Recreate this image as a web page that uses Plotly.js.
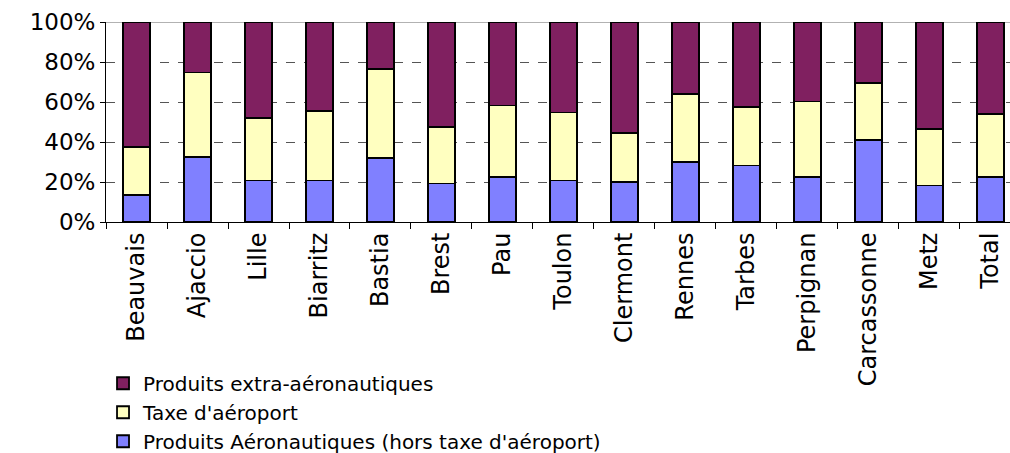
<!DOCTYPE html>
<html>
<head>
<meta charset="utf-8">
<script src="https://cdn.plot.ly/plotly-3.0.1.min.js"></script>
<style>html,body{margin:0;padding:0;background:#fff;}#chart{width:1010px;height:453px;}</style>
</head>
<body>
<div id="chart"></div>
<script>
const categories = ["Beauvais","Ajaccio","Lille","Biarritz","Bastia","Brest","Pau","Toulon","Clermont","Rennes","Tarbes","Perpignan","Carcassonne","Metz","Total"];
const aeronautiques = [13.5, 32.7, 20.8, 20.8, 32.2, 19.3, 22.7, 20.8, 20.0, 30.0, 28.3, 22.7, 41.2, 18.3, 22.7];
const taxeAeroport = [24.2, 42.1, 31.4, 34.9, 44.5, 28.4, 35.6, 34.0, 24.7, 34.0, 29.2, 37.6, 28.5, 28.4, 31.3];
const extraAeronautiques = [62.3, 25.2, 47.8, 44.3, 23.3, 52.3, 41.7, 45.2, 55.3, 36.0, 42.5, 39.7, 30.3, 53.3, 46.0];
const yTicks = [0, 20, 40, 60, 80, 100];

const lineStyle = {color: '#000000', width: 1.8};
const traces = [
  {type: 'bar', name: "Produits Aéronautiques (hors taxe d'aéroport)", x: categories, y: aeronautiques,
   marker: {color: '#8080FF', line: lineStyle}, width: 0.43},
  {type: 'bar', name: "Taxe d'aéroport", x: categories, y: taxeAeroport,
   marker: {color: '#FFFFC0', line: lineStyle}, width: 0.43},
  {type: 'bar', name: 'Produits extra-aéronautiques', x: categories, y: extraAeronautiques,
   marker: {color: '#802060', line: lineStyle}, width: 0.43}
];

const layout = {
  width: 1010, height: 453,
  margin: {l: 106, r: 0, t: 22, b: 231, autoexpand: false},
  paper_bgcolor: '#ffffff', plot_bgcolor: '#ffffff',
  barmode: 'stack',
  showlegend: true,
  font: {family: 'DejaVu Sans, Arial, sans-serif', color: '#000000'},
  xaxis: {
    type: 'category', range: [-0.5, 14.32],
    tickmode: 'array', tickvals: categories, ticktext: categories,
    tickangle: -90, tickfont: {size: 24, family: 'DejaVu Sans'},
    tickson: 'boundaries', ticks: 'outside', ticklen: 6, tickcolor: '#000', tickwidth: 1,
    showline: true, linecolor: '#000', linewidth: 1,
    showgrid: false, zeroline: false, fixedrange: true, automargin: false
  },
  yaxis: {
    range: [0, 100], tickmode: 'array', tickvals: yTicks, ticktext: yTicks.map(v => v + '%'),
    tickfont: {size: 23, family: 'DejaVu Sans'},
    ticks: 'outside', ticklen: 5, tickcolor: '#000', tickwidth: 1,
    showline: true, linecolor: '#000', linewidth: 1,
    showgrid: true, gridcolor: '#555555', griddash: 'dash', gridwidth: 1,
    zeroline: false, fixedrange: true, automargin: false
  },
  shapes: [{type: 'line', xref: 'paper', yref: 'y', x0: 0, x1: 1, y0: 100, y1: 100,
            line: {color: '#999999', width: 1.5}, layer: 'below'}],
  legend: {
    traceorder: 'reversed',
    xref: 'container', yref: 'container',
    x: 0.102, y: 0.197, xanchor: 'left', yanchor: 'top',
    font: {size: 20, family: 'DejaVu Sans'},
    bgcolor: 'rgba(0,0,0,0)', tracegroupgap: 0
  }
};

Plotly.newPlot('chart', traces, layout, {displayModeBar: false, staticPlot: true});
</script>
</body>
</html>
